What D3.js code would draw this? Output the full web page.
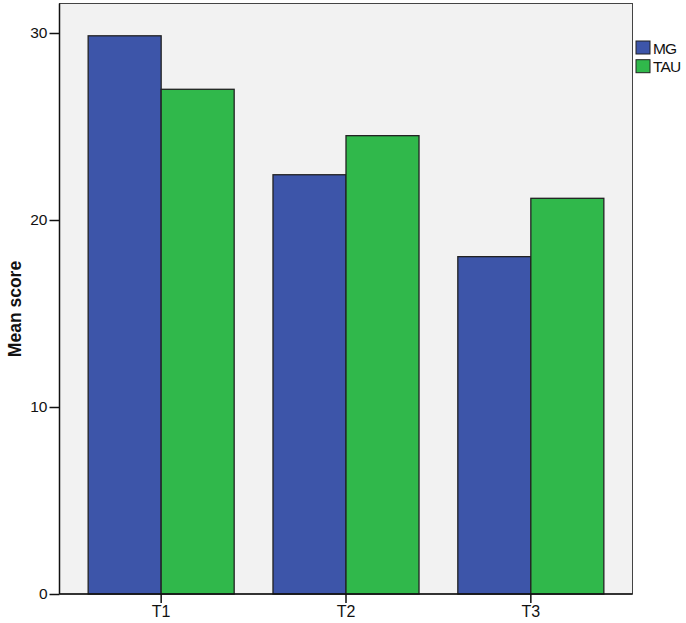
<!DOCTYPE html>
<html>
<head>
<meta charset="utf-8">
<script src="https://cdn.jsdelivr.net/npm/d3@7"></script>
<style>
  html, body { margin: 0; padding: 0; background: #ffffff; }
  svg { display: block; font-family: "Liberation Sans", Arial, sans-serif; }
</style>
</head>
<body>
<svg id="chart" width="686" height="623"></svg>
<script>
const categories = ["T1", "T2", "T3"];
const seriesNames = ["MG", "TAU"];
const mgValues = [29.85, 22.42, 18.04];
const tauValues = [26.99, 24.51, 21.16];
const yTicks = [0, 10, 20, 30];
const yLabel = "Mean score";
const colors = ["#3d55a9", "#30b84b"];

const svg = d3.select("#chart");
const pLeft = 59.5, pRight = 632.5, pTop = 3.5, pBottom = 594;

const y = d3.scaleLinear().domain([0, 30]).range([pBottom, pBottom - 30 * 18.7]);
const x = d3.scaleBand().domain(categories).range([pLeft, pRight]).paddingInner(0.21).paddingOuter(0.155);
const xs = d3.scaleBand().domain(seriesNames).range([0, x.bandwidth()]).padding(0);

// plot background
svg.append("rect").attr("x", pLeft).attr("y", pTop).attr("width", pRight - pLeft).attr("height", pBottom - pTop)
  .attr("fill", "#f2f2f2").attr("stroke", "#444").attr("stroke-width", 1);

const data = categories.map((c, i) => ({ cat: c, vals: [mgValues[i], tauValues[i]] }));

const g = svg.append("g");
data.forEach(d => {
  d.vals.forEach((v, j) => {
    g.append("rect")
      .attr("x", x(d.cat) + xs(seriesNames[j]))
      .attr("y", y(v))
      .attr("width", xs.bandwidth())
      .attr("height", y(0) - y(v))
      .attr("fill", colors[j])
      .attr("stroke", "#222")
      .attr("stroke-width", 1.3);
  });
});

// left axis line and bottom axis line
svg.append("line").attr("x1", pLeft).attr("x2", pLeft).attr("y1", pTop).attr("y2", pBottom).attr("stroke", "#111").attr("stroke-width", 1.5);
svg.append("line").attr("x1", pLeft).attr("x2", pRight).attr("y1", pBottom).attr("y2", pBottom).attr("stroke", "#111").attr("stroke-width", 1.5);

// y axis
const yAxis = d3.axisLeft(y).tickValues(yTicks).tickSize(10).tickPadding(2).tickFormat(d3.format("d"));
const ya = svg.append("g").attr("transform", `translate(${pLeft},0)`).call(yAxis);
ya.select(".domain").remove();
ya.selectAll(".tick line").attr("stroke", "#111").attr("stroke-width", 1.5);
ya.selectAll(".tick text").attr("font-size", 15.5).attr("fill", "#111").attr("font-family", "Liberation Sans, Arial, sans-serif");

// x axis
const xAxis = d3.axisBottom(x).tickSize(9).tickPadding(3);
const xa = svg.append("g").attr("transform", `translate(0,${pBottom})`).call(xAxis);
xa.select(".domain").remove();
xa.selectAll(".tick line").attr("stroke", "#111").attr("stroke-width", 1.5);
xa.selectAll(".tick text").attr("font-size", 16).attr("fill", "#111").attr("font-family", "Liberation Sans, Arial, sans-serif");

// y label
svg.append("text")
  .attr("transform", `translate(21,309) rotate(-90)`)
  .attr("text-anchor", "middle")
  .attr("font-size", 17.5).attr("font-weight", "bold").attr("fill", "#111")
  .text(yLabel);

// legend
const lg = svg.append("g").attr("transform", "translate(636,41)");
seriesNames.forEach((s, i) => {
  lg.append("rect").attr("x", 0).attr("y", i * 18.7).attr("width", 14).attr("height", 13)
    .attr("fill", colors[i]).attr("stroke", "#222").attr("stroke-width", 1);
  lg.append("text").attr("x", 17).attr("y", i * 18.7 + 12.5).attr("font-size", 15.5).attr("fill", "#111")
    .attr("letter-spacing", "-0.8").text(s);
});
</script>
</body>
</html>
